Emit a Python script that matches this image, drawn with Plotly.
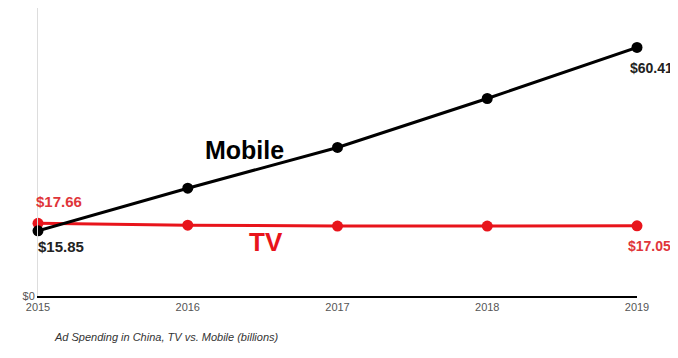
import plotly.graph_objects as go

years = [2015, 2016, 2017, 2018, 2019]
mobile = [15.85, 26.2, 36.1, 48.0, 60.41]
tv = [17.66, 17.2, 17.0, 17.0, 17.05]
caption = "Ad Spending in China, TV vs. Mobile (billions)"

RED = "#e8141b"
fig = go.Figure()
fig.add_trace(go.Scatter(x=years, y=tv, mode="lines+markers", name="TV",
                         line=dict(color=RED, width=3), marker=dict(size=11, color=RED),
                         cliponaxis=False))
fig.add_trace(go.Scatter(x=years, y=mobile, mode="lines+markers", name="Mobile",
                         line=dict(color="black", width=3), marker=dict(size=11, color="black"),
                         cliponaxis=False))

font = "Liberation Sans, Arial, sans-serif"
ann = []
ann.append(dict(x=years[0], y=tv[0], text=f"<b>${tv[0]:.2f}</b>", xanchor="left", yanchor="middle",
                xshift=-4, yshift=22, font=dict(color="#e0353a", size=15, family=font)))
ann.append(dict(x=years[0], y=mobile[0], text=f"<b>${mobile[0]:.2f}</b>", xanchor="left", yanchor="middle",
                xshift=-2, yshift=-16, font=dict(color="#222", size=15, family=font)))
ann.append(dict(x=years[-1], y=mobile[-1], text=f"<b>${mobile[-1]:.2f}</b>", xanchor="center", yanchor="middle",
                xshift=14, yshift=-21, font=dict(color="#222", size=14, family=font)))
ann.append(dict(x=years[-1], y=tv[-1], text=f"<b>${tv[-1]:.2f}</b>", xanchor="center", yanchor="middle",
                xshift=12, yshift=-20, font=dict(color="#e0353a", size=14, family=font)))
ann.append(dict(x=2016.38, y=35.4, text="<b>Mobile</b>", xanchor="center", yanchor="middle",
                font=dict(color="black", size=25, family=font)))
ann.append(dict(x=2016.52, y=13.1, text="<b>TV</b>", xanchor="center", yanchor="middle",
                font=dict(color=RED, size=26, family=font)))
ann.append(dict(xref="paper", yref="paper", x=0.023, y=-41/288, text=f"<i>{caption}</i>",
                xanchor="left", yanchor="middle", font=dict(color="#333", size=11, family=font)))
for a in ann:
    a.setdefault("xref", "x")
    a.setdefault("yref", "y")
    a["showarrow"] = False

# The page body has an 8px default margin, so the figure is sized to fit the 678x358 window.
fig.update_layout(
    width=670, height=350,
    margin=dict(l=30, r=41, t=0, b=62, autoexpand=False),
    paper_bgcolor="white", plot_bgcolor="white",
    showlegend=False,
    annotations=ann,
    xaxis=dict(range=[2015, 2019], tickvals=years, ticktext=[str(y) for y in years],
               showgrid=False, zeroline=False, showline=True, linecolor="black", linewidth=2,
               ticks="", automargin=False, tickfont=dict(size=11, color="#555", family=font)),
    yaxis=dict(range=[0, 70], tickvals=[0], ticktext=["$0"], showgrid=False, zeroline=False,
               showline=True, linecolor="#dddddd", linewidth=1, ticks="", automargin=False,
               tickfont=dict(size=11, color="#555", family=font)),
)
fig.write_html("out.html")
